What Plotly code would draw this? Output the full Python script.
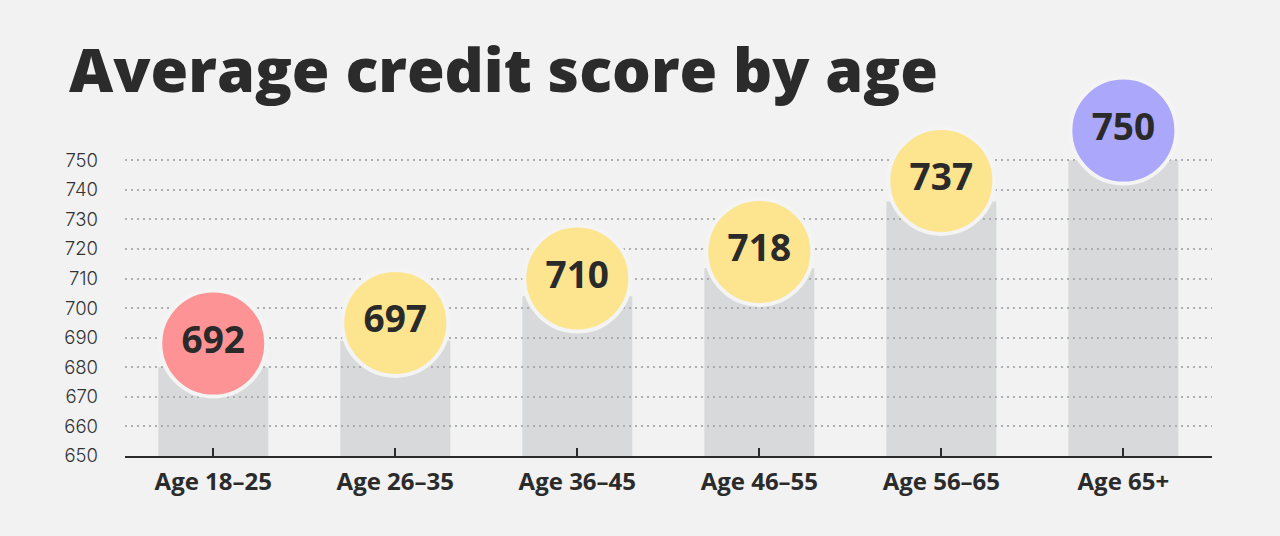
import plotly.graph_objects as go

categories = ["Age 18–25", "Age 26–35", "Age 36–45", "Age 46–55", "Age 56–65", "Age 65+"]
scores = [692, 697, 710, 718, 737, 750]
bar_tops = [680, 689, 704, 713.5, 736, 750]          # grey column heights as drawn
bubble_y = [688, 695, 710, 719, 743, 760]            # bubble centres as drawn
bubble_colors = ["#fe9396", "#fde58f", "#fde58f", "#fde58f", "#fde58f", "#aba7fa"]
y_ticks = [650, 660, 670, 680, 690, 700, 710, 720, 730, 740, 750]

BG = "#f1f2f1"
BASE = 650

fig = go.Figure()
fig.add_trace(go.Bar(
    x=categories,
    y=[t - BASE for t in bar_tops],
    base=[BASE] * len(categories),
    width=0.604,
    marker=dict(color="rgba(170,172,178,0.36)", line=dict(width=0)),
    hoverinfo="skip",
))
fig.add_trace(go.Scatter(
    x=categories,
    y=bubble_y,
    mode="markers+text",
    marker=dict(size=106, color=bubble_colors, opacity=1,
                line=dict(width=4, color="#f3f4f3")),
    text=[str(s) for s in scores],
    textposition="middle center",
    textfont=dict(family="Open Sans", size=37, color="#2a2a2a", weight="bold"),
    cliponaxis=False,
    hoverinfo="skip",
))

fig.update_layout(
    width=1280, height=536,
    paper_bgcolor=BG, plot_bgcolor=BG,
    margin=dict(l=125, r=68, t=101, b=80),
    showlegend=False,
    title=dict(
        text="Average credit score by age",
        font=dict(family="Open Sans", size=61, color="#2b2b2b", weight=800),
        xref="container", yref="container",
        x=69 / 1280, xanchor="left",
        y=1 - 71 / 536, yanchor="middle",
    ),
    xaxis=dict(
        range=[-0.485, 5.487],
        showline=True, linecolor="#2b2b2b", linewidth=2,
        ticks="inside", ticklen=8, tickwidth=2, tickcolor="#2b2b2b",
        showgrid=False, zeroline=False,
        tickfont=dict(family="Open Sans", size=24, color="#2b2b2b", weight="bold"),
        ticklabelstandoff=3,
        fixedrange=True,
    ),
    yaxis=dict(
        range=[650, 770],
        tickvals=y_ticks,
        showline=False, zeroline=False,
        showgrid=True, gridcolor="#adaeaf", gridwidth=1.5, griddash="1.5px,4.5px",
        tickfont=dict(family="Inter", size=18.5, color="#333333", weight=300),
        ticklabelstandoff=26,
        fixedrange=True,
    ),
)

fig.write_html(
    "out.html",
    config={"displayModeBar": False},
    post_script="document.body.style.margin='0';document.body.style.background='%s';" % BG,
)
